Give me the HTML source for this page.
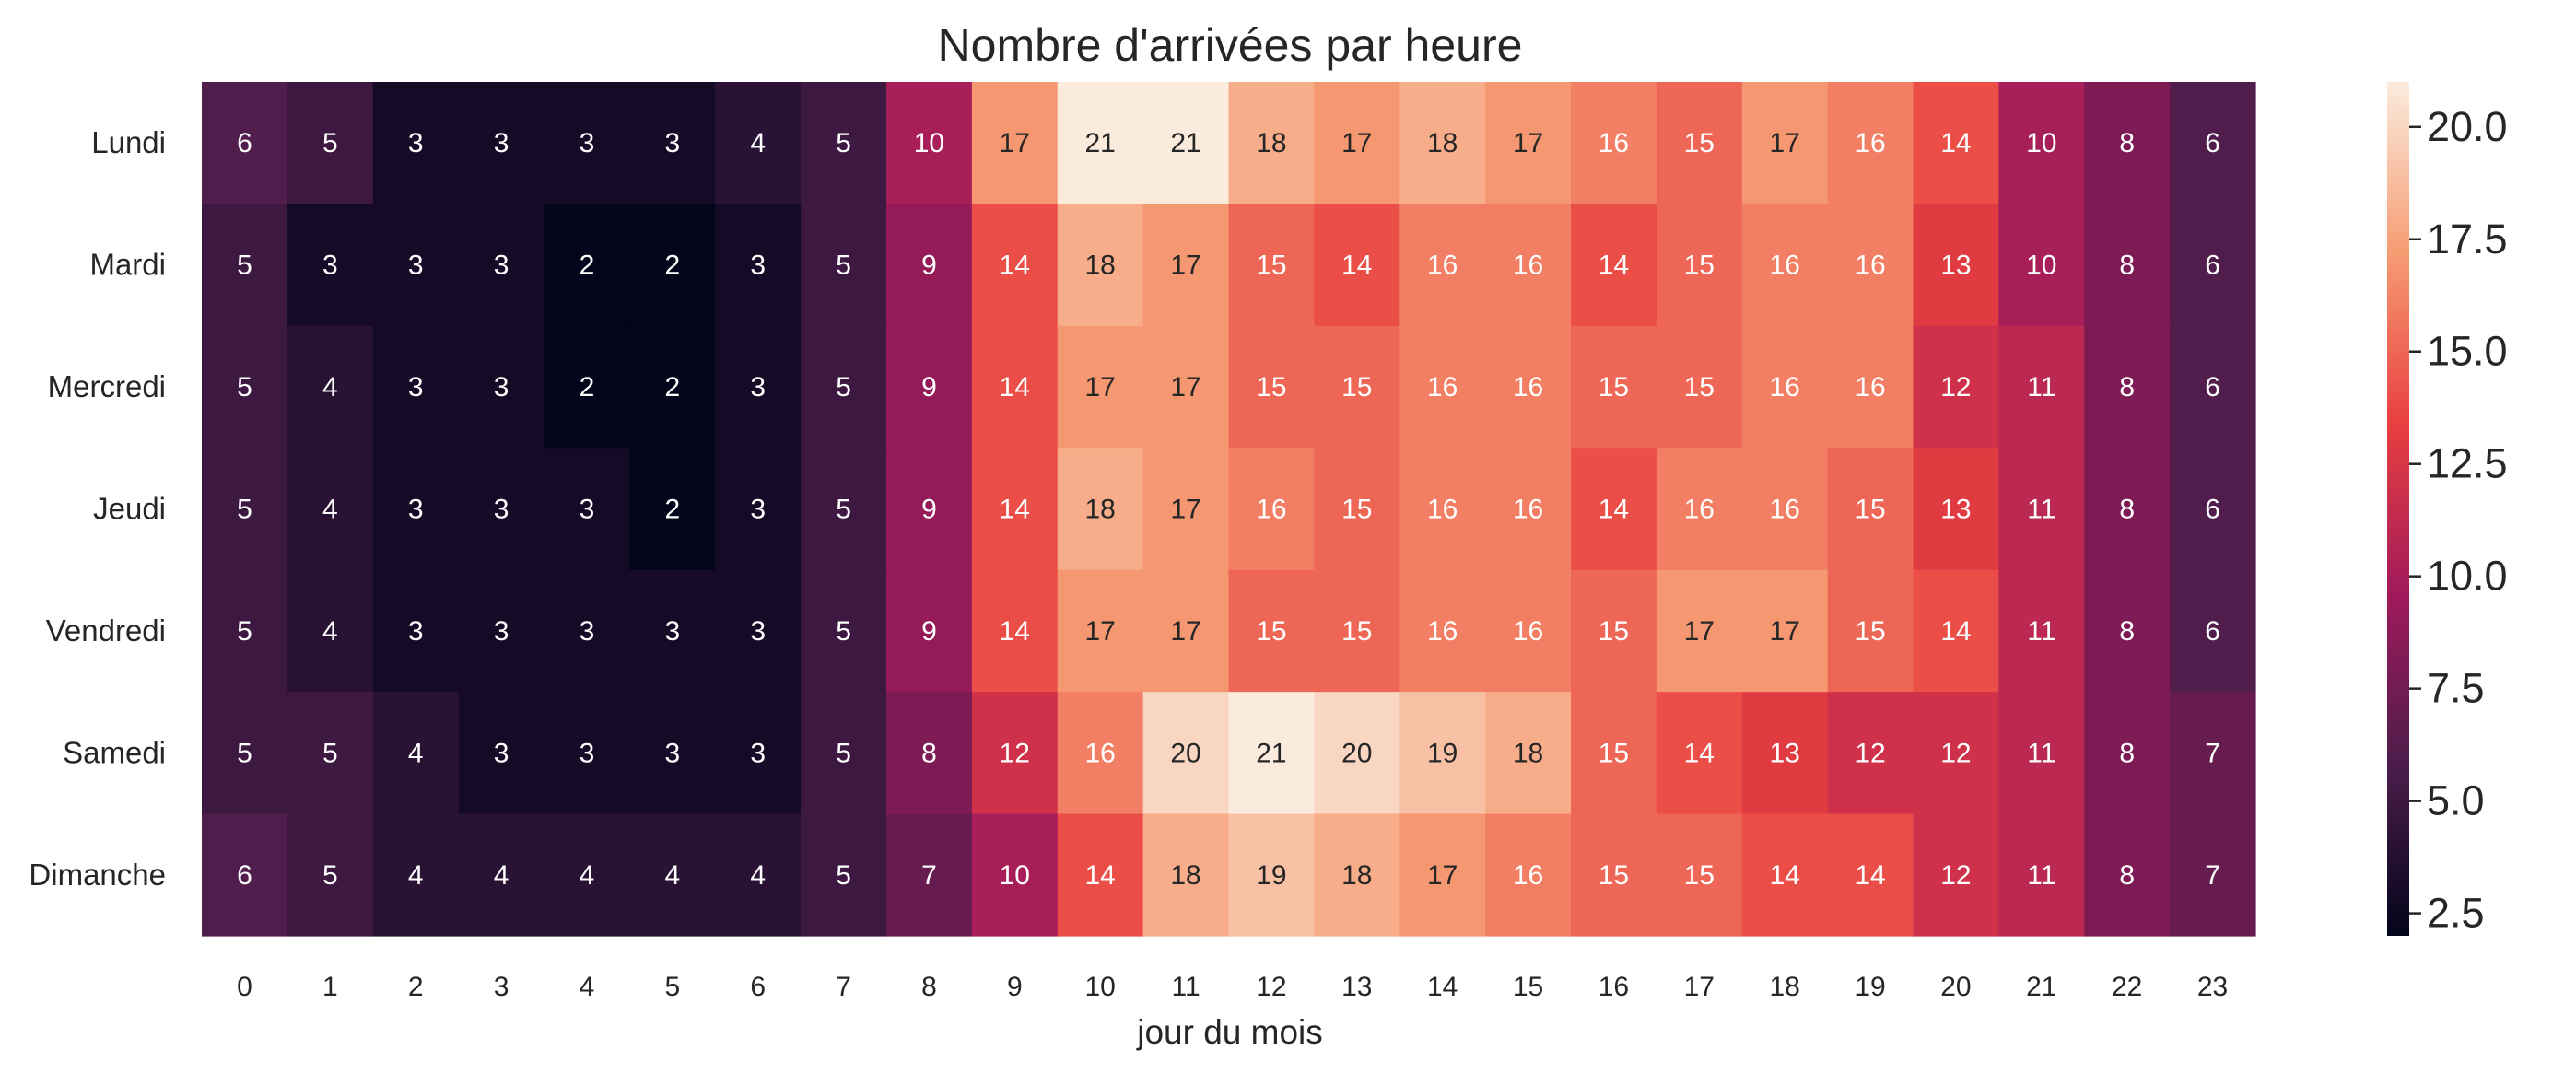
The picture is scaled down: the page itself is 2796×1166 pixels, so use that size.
<!DOCTYPE html>
<html><head><meta charset="utf-8"><style>
html,body{margin:0;padding:0;background:#fff;}
svg{display:block;font-family:"Liberation Sans",Arial,sans-serif;}
</style></head><body>
<svg id="chart" width="2796" height="1166" viewBox="0 0 2796 1166">
<text x="1335" y="66" font-size="50" text-anchor="middle" fill="#262626">Nombre d'arrivées par heure</text>
<g id="cells"></g>
<g id="ylabels"></g>
<g id="xlabels"></g>
<text x="1335" y="1133" font-size="37" text-anchor="middle" fill="#262626">jour du mois</text>
<defs><linearGradient id="cbg" x1="0" y1="1" x2="0" y2="0">
<stop offset="0" stop-color="#03051A"/><stop offset="0.2" stop-color="#4C1D4B"/><stop offset="0.4" stop-color="#A11A5B"/><stop offset="0.6" stop-color="#E83F3F"/><stop offset="0.8" stop-color="#F69C73"/><stop offset="1" stop-color="#FAEBDD"/>
</linearGradient></defs>
<rect x="2591" y="89" width="24" height="927" fill="url(#cbg)"/>
<g id="cbticks"></g>
</svg>
<script>
const days = ["Lundi","Mardi","Mercredi","Jeudi","Vendredi","Samedi","Dimanche"];
const hours = [0,1,2,3,4,5,6,7,8,9,10,11,12,13,14,15,16,17,18,19,20,21,22,23];
const lundi =    [6,5,3,3,3,3,4,5,10,17,21,21,18,17,18,17,16,15,17,16,14,10,8,6];
const mardi =    [5,3,3,3,2,2,3,5,9,14,18,17,15,14,16,16,14,15,16,16,13,10,8,6];
const mercredi = [5,4,3,3,2,2,3,5,9,14,17,17,15,15,16,16,15,15,16,16,12,11,8,6];
const jeudi =    [5,4,3,3,3,2,3,5,9,14,18,17,16,15,16,16,14,16,16,15,13,11,8,6];
const vendredi = [5,4,3,3,3,3,3,5,9,14,17,17,15,15,16,16,15,17,17,15,14,11,8,6];
const samedi =   [5,5,4,3,3,3,3,5,8,12,16,20,21,20,19,18,15,14,13,12,12,11,8,7];
const dimanche = [6,5,4,4,4,4,4,5,7,10,14,18,19,18,17,16,15,15,14,14,12,11,8,7];
const rows = [lundi,mardi,mercredi,jeudi,vendredi,samedi,dimanche];
const cbTicks = ["2.5","5.0","7.5","10.0","12.5","15.0","17.5","20.0"];
const vmin = 2, vmax = 21;

const L=219, T=89, W=2229, H=927;
const cw = W/hours.length, rh = H/days.length;
const xPos = i => L + i*cw;
const yPos = j => T + j*rh;
const cbY = v => 1016 - (v - vmin)/(vmax - vmin)*927;
const stops=[[0,[3,5,26]],[0.2,[76,29,75]],[0.4,[161,26,91]],[0.6,[232,63,63]],[0.8,[246,156,115]],[1,[250,235,221]]];
function color(v){
  let t=Math.max(0,Math.min(1,(v-vmin)/(vmax-vmin)));
  for(let k=1;k<stops.length;k++){ if(t<=stops[k][0]){const a=stops[k-1],b=stops[k];const f=(t-a[0])/(b[0]-a[0]);
    return 'rgb('+a[1].map((c,i)=>Math.round(c+(b[1][i]-c)*f)).join(',')+')';}}
  return 'rgb(250,235,221)';
}
const NS="http://www.w3.org/2000/svg";
const cells=document.getElementById('cells');
rows.forEach((row,j)=>{
  row.forEach((v,i)=>{
    const r=document.createElementNS(NS,'rect');
    r.setAttribute('x',xPos(i));r.setAttribute('y',yPos(j));
    r.setAttribute('width',cw+0.6);r.setAttribute('height',rh+0.6);
    r.setAttribute('fill',color(v));
    
    
    cells.appendChild(r);
    const t=document.createElementNS(NS,'text');
    t.setAttribute('x',xPos(i)+cw/2);t.setAttribute('y',yPos(j)+rh/2+10);
    t.setAttribute('font-size','30');t.setAttribute('text-anchor','middle');
    t.setAttribute('fill', v>=16.5 ? '#262626' : '#ffffff');
    t.textContent=v;
    
    
    cells.appendChild(t);
  });
});
const yl=document.getElementById('ylabels');
days.forEach((d,j)=>{
  const t=document.createElementNS(NS,'text');
  t.setAttribute('x',180);t.setAttribute('y',yPos(j)+rh/2+11);
  t.setAttribute('font-size','33');t.setAttribute('text-anchor','end');t.setAttribute('fill','#262626');
  t.textContent=d;
  
  
  yl.appendChild(t);
});
const xl=document.getElementById('xlabels');
hours.forEach((h,i)=>{
  const t=document.createElementNS(NS,'text');
  t.setAttribute('x',xPos(i)+cw/2);t.setAttribute('y',1081);
  t.setAttribute('font-size','30');t.setAttribute('text-anchor','middle');t.setAttribute('fill','#262626');
  t.textContent=h;
  
  
  xl.appendChild(t);
});
const cb=document.getElementById('cbticks');
cbTicks.forEach(s=>{
  const y=cbY(parseFloat(s));
  const l=document.createElementNS(NS,'line');
  l.setAttribute('x1',2615);l.setAttribute('x2',2628);l.setAttribute('y1',y);l.setAttribute('y2',y);
  l.setAttribute('stroke','#262626');l.setAttribute('stroke-width','2.5');
  
  
  cb.appendChild(l);
  const t=document.createElementNS(NS,'text');
  t.setAttribute('x',2634);t.setAttribute('y',y+15);
  t.setAttribute('font-size','45');t.setAttribute('fill','#262626');
  t.textContent=s;
  
  
  cb.appendChild(t);
});
</script>
</body></html>
